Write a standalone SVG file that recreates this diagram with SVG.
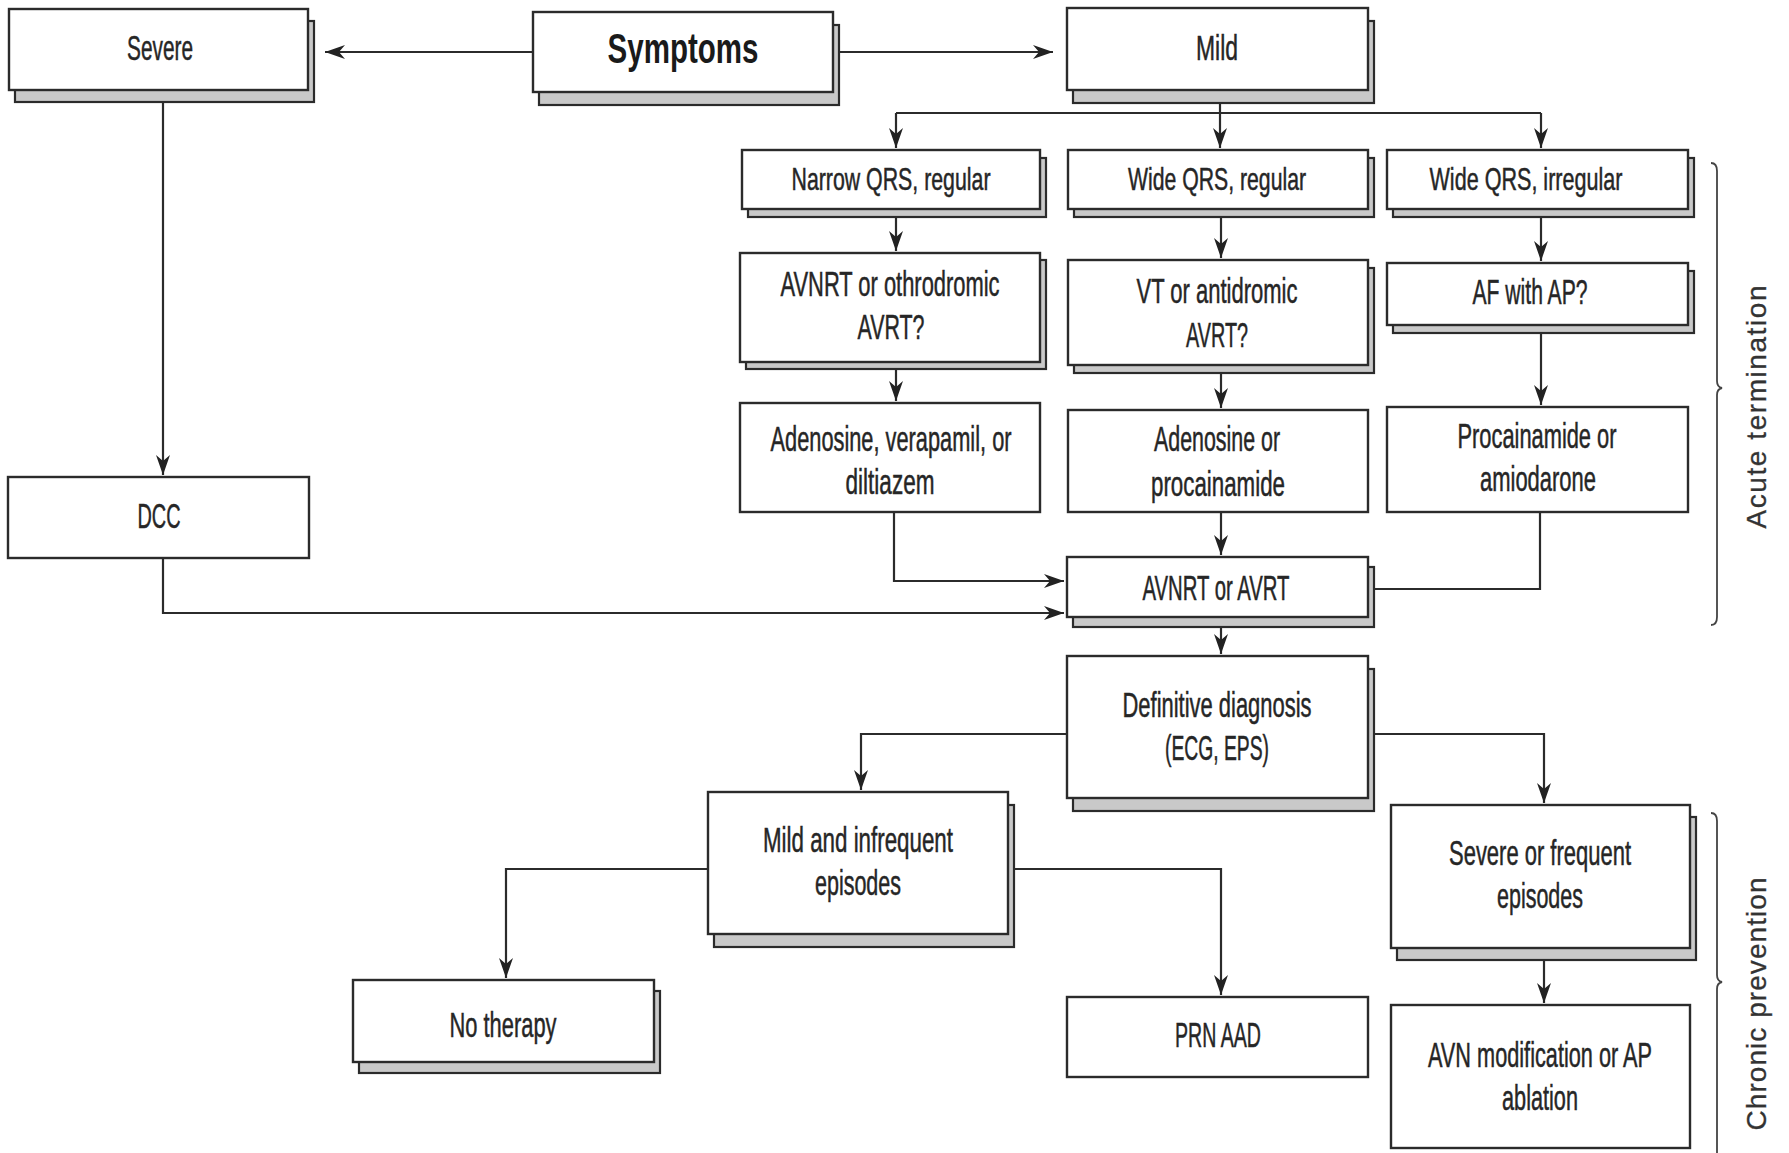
<svg xmlns="http://www.w3.org/2000/svg" width="1789" height="1153" viewBox="0 0 1789 1153">
<style>
.bg{fill:#ffffff}
.box{fill:#ffffff;stroke:#2b2b2b;stroke-width:2.4}
.sh{fill:#c9c9c9;stroke:#2b2b2b;stroke-width:2.2}
.t{font-family:"Liberation Sans Narrow","Liberation Sans",Arial,sans-serif;font-size:35px;fill:#262626;stroke:#262626;stroke-width:0.5;text-anchor:middle}
.t1{font-size:32px}
.tb{font-family:"Liberation Sans Narrow","Liberation Sans",Arial,sans-serif;font-size:43px;font-weight:bold;fill:#1a1a1a;text-anchor:middle}
.lbl{font-family:"Liberation Sans",Arial,sans-serif;font-size:28px;fill:#333333;stroke:#333333;stroke-width:0.3;text-anchor:middle}
.ln{fill:none;stroke:#2b2b2b;stroke-width:2.2}
.br{fill:none;stroke:#444444;stroke-width:1.8}
</style>
<defs>
<marker id="arr" markerUnits="userSpaceOnUse" markerWidth="26" markerHeight="18" viewBox="-23 -9 26 18" refX="0" refY="0" orient="auto">
<path d="M0,0 L-20,-7 L-14,0 L-20,7 Z" fill="#222222"/>
</marker>
</defs>
<rect class="bg" x="0" y="0" width="1789" height="1153"/>

<g id="connectors">
<path class="ln" d="M533,52 L325,52" marker-end="url(#arr)"/>
<path class="ln" d="M839,52 L1053,52" marker-end="url(#arr)"/>
<path class="ln" d="M1220,103 L1220,113"/>
<path class="ln" d="M896,113 L1541,113"/>
<path class="ln" d="M896,113 L896,148" marker-end="url(#arr)"/>
<path class="ln" d="M1220,113 L1220,148" marker-end="url(#arr)"/>
<path class="ln" d="M1541,113 L1541,148" marker-end="url(#arr)"/>
<path class="ln" d="M896,217 L896,251" marker-end="url(#arr)"/>
<path class="ln" d="M1221,217 L1221,258" marker-end="url(#arr)"/>
<path class="ln" d="M1541,217 L1541,261" marker-end="url(#arr)"/>
<path class="ln" d="M896,369 L896,401" marker-end="url(#arr)"/>
<path class="ln" d="M1221,373 L1221,408" marker-end="url(#arr)"/>
<path class="ln" d="M1541,333 L1541,405" marker-end="url(#arr)"/>
<path class="ln" d="M163,102 L163,475" marker-end="url(#arr)"/>
<path class="ln" d="M163,558 L163,613 L1064,613" marker-end="url(#arr)"/>
<path class="ln" d="M894,512 L894,581 L1064,581" marker-end="url(#arr)"/>
<path class="ln" d="M1221,512 L1221,555" marker-end="url(#arr)"/>
<path class="ln" d="M1540,512 L1540,589 L1373,589"/>
<path class="ln" d="M1221,627 L1221,654" marker-end="url(#arr)"/>
<path class="ln" d="M1067,734 L861,734 L861,790" marker-end="url(#arr)"/>
<path class="ln" d="M1373,734 L1544,734 L1544,803" marker-end="url(#arr)"/>
<path class="ln" d="M708,869 L506,869 L506,978" marker-end="url(#arr)"/>
<path class="ln" d="M1014,869 L1221,869 L1221,995" marker-end="url(#arr)"/>
<path class="ln" d="M1544,960 L1544,1003" marker-end="url(#arr)"/>
</g>

<g id="severe">
<rect class="sh" x="15" y="21" width="299" height="81"/>
<rect class="box" x="9" y="9" width="299" height="81"/>
<text class="t" x="160" y="60" textLength="66" lengthAdjust="spacingAndGlyphs">Severe</text>
</g>
<g id="symptoms">
<rect class="sh" x="539" y="25" width="300" height="80"/>
<rect class="box" x="533" y="12" width="300" height="80"/>
<text class="tb" x="683" y="63" textLength="151" lengthAdjust="spacingAndGlyphs">Symptoms</text>
</g>
<g id="mild">
<rect class="sh" x="1073" y="21" width="301" height="82"/>
<rect class="box" x="1067" y="8" width="301" height="82"/>
<text class="t" x="1217" y="60" textLength="42" lengthAdjust="spacingAndGlyphs">Mild</text>
</g>

<g id="narrow-qrs">
<rect class="sh" x="748" y="158" width="298" height="59"/>
<rect class="box" x="742" y="150" width="298" height="59"/>
<text class="t t1" x="891" y="190" textLength="199" lengthAdjust="spacingAndGlyphs">Narrow QRS, regular</text>
</g>
<g id="wide-qrs-regular">
<rect class="sh" x="1074" y="158" width="300" height="59"/>
<rect class="box" x="1068" y="150" width="300" height="59"/>
<text class="t t1" x="1217" y="190" textLength="178" lengthAdjust="spacingAndGlyphs">Wide QRS, regular</text>
</g>
<g id="wide-qrs-irregular">
<rect class="sh" x="1393" y="158" width="301" height="59"/>
<rect class="box" x="1387" y="150" width="301" height="59"/>
<text class="t t1" x="1526" y="190" textLength="193" lengthAdjust="spacingAndGlyphs">Wide QRS, irregular</text>
</g>

<g id="avnrt-q">
<rect class="sh" x="746" y="260" width="300" height="109"/>
<rect class="box" x="740" y="253" width="300" height="109"/>
<text class="t" x="890" y="296" textLength="219" lengthAdjust="spacingAndGlyphs">AVNRT or othrodromic</text>
<text class="t" x="891" y="339" textLength="67" lengthAdjust="spacingAndGlyphs">AVRT?</text>
</g>
<g id="vt-q">
<rect class="sh" x="1074" y="268" width="300" height="105"/>
<rect class="box" x="1068" y="260" width="300" height="105"/>
<text class="t" x="1217" y="303" textLength="161" lengthAdjust="spacingAndGlyphs">VT or antidromic</text>
<text class="t" x="1217" y="347" textLength="62" lengthAdjust="spacingAndGlyphs">AVRT?</text>
</g>
<g id="af-q">
<rect class="sh" x="1393" y="271" width="301" height="62"/>
<rect class="box" x="1387" y="263" width="301" height="62"/>
<text class="t" x="1530" y="304" textLength="115" lengthAdjust="spacingAndGlyphs">AF with AP?</text>
</g>

<g id="adenosine-verapamil">
<rect class="box" x="740" y="403" width="300" height="109"/>
<text class="t" x="891" y="451" textLength="241" lengthAdjust="spacingAndGlyphs">Adenosine, verapamil, or</text>
<text class="t" x="890" y="494" textLength="89" lengthAdjust="spacingAndGlyphs">diltiazem</text>
</g>
<g id="adenosine-procainamide">
<rect class="box" x="1068" y="410" width="300" height="102"/>
<text class="t" x="1217" y="451" textLength="126" lengthAdjust="spacingAndGlyphs">Adenosine or</text>
<text class="t" x="1218" y="496" textLength="134" lengthAdjust="spacingAndGlyphs">procainamide</text>
</g>
<g id="procainamide-amiodarone">
<rect class="box" x="1387" y="407" width="301" height="105"/>
<text class="t" x="1537" y="448" textLength="159" lengthAdjust="spacingAndGlyphs">Procainamide or</text>
<text class="t" x="1538" y="491" textLength="116" lengthAdjust="spacingAndGlyphs">amiodarone</text>
</g>

<g id="dcc">
<rect class="box" x="8" y="477" width="301" height="81"/>
<text class="t" x="159" y="528" textLength="43" lengthAdjust="spacingAndGlyphs">DCC</text>
</g>

<g id="avnrt-avrt">
<rect class="sh" x="1073" y="567" width="301" height="60"/>
<rect class="box" x="1067" y="557" width="301" height="60"/>
<text class="t" x="1216" y="600" textLength="147" lengthAdjust="spacingAndGlyphs">AVNRT or AVRT</text>
</g>

<g id="definitive">
<rect class="sh" x="1073" y="669" width="301" height="142"/>
<rect class="box" x="1067" y="656" width="301" height="142"/>
<text class="t" x="1217" y="717" textLength="189" lengthAdjust="spacingAndGlyphs">Definitive diagnosis</text>
<text class="t" x="1217" y="760" textLength="104" lengthAdjust="spacingAndGlyphs">(ECG, EPS)</text>
</g>

<g id="mild-infrequent">
<rect class="sh" x="714" y="805" width="300" height="142"/>
<rect class="box" x="708" y="792" width="300" height="142"/>
<text class="t" x="858" y="852" textLength="190" lengthAdjust="spacingAndGlyphs">Mild and infrequent</text>
<text class="t" x="858" y="895" textLength="86" lengthAdjust="spacingAndGlyphs">episodes</text>
</g>

<g id="severe-frequent">
<rect class="sh" x="1397" y="817" width="299" height="143"/>
<rect class="box" x="1391" y="805" width="299" height="143"/>
<text class="t" x="1540" y="865" textLength="182" lengthAdjust="spacingAndGlyphs">Severe or frequent</text>
<text class="t" x="1540" y="908" textLength="86" lengthAdjust="spacingAndGlyphs">episodes</text>
</g>

<g id="no-therapy">
<rect class="sh" x="359" y="991" width="301" height="82"/>
<rect class="box" x="353" y="980" width="301" height="82"/>
<text class="t" x="503" y="1037" textLength="107" lengthAdjust="spacingAndGlyphs">No therapy</text>
</g>

<g id="prn-aad">
<rect class="box" x="1067" y="997" width="301" height="80"/>
<text class="t" x="1218" y="1047" textLength="86" lengthAdjust="spacingAndGlyphs">PRN AAD</text>
</g>

<g id="avn-modification">
<rect class="box" x="1391" y="1005" width="299" height="143"/>
<text class="t" x="1540" y="1067" textLength="224" lengthAdjust="spacingAndGlyphs">AVN modification or AP</text>
<text class="t" x="1540" y="1110" textLength="76" lengthAdjust="spacingAndGlyphs">ablation</text>
</g>

<g id="acute-termination">
<path class="br" d="M1711,163 Q1717,163 1717,171 L1717,381 Q1717,387 1722,388 Q1717,389 1717,395 L1717,617 Q1717,625 1711,625"/>
<text class="lbl" transform="translate(1766,407) rotate(-90)" x="0" y="0" textLength="243">Acute termination</text>
</g>
<g id="chronic-prevention">
<path class="br" d="M1711,813 Q1717,813 1717,821 L1717,975 Q1717,981 1722,982 Q1717,983 1717,989 L1717,1153"/>
<text class="lbl" transform="translate(1766,1004) rotate(-90)" x="0" y="0" textLength="253">Chronic prevention</text>
</g>
</svg>
